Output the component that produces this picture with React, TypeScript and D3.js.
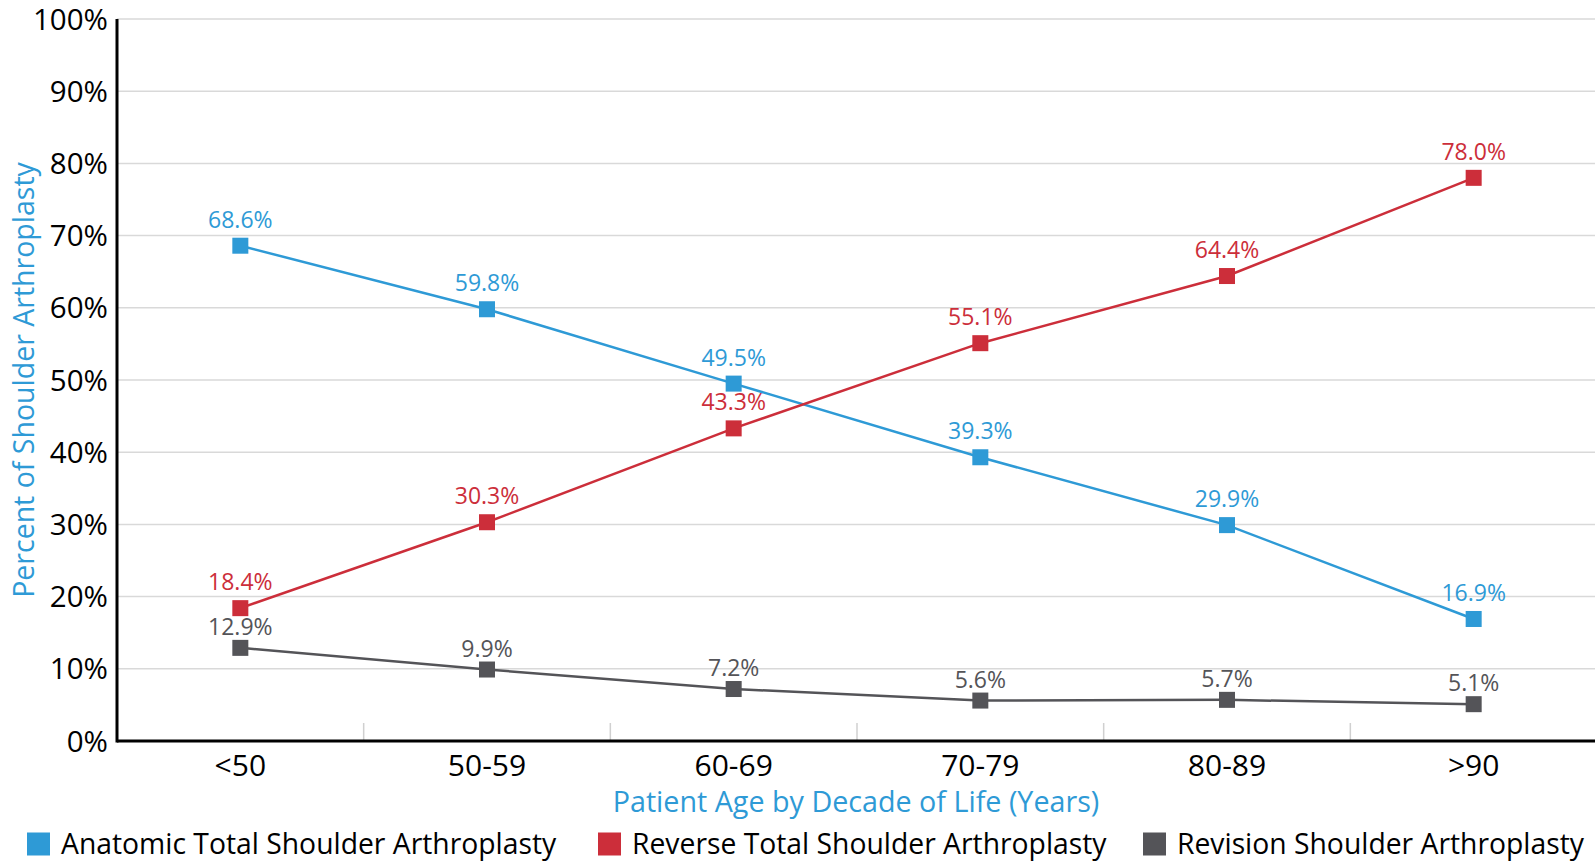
import * as d3 from "d3";

const ageGroups = ["<50", "50-59", "60-69", "70-79", "80-89", ">90"];
const anatomic = [68.6, 59.8, 49.5, 39.3, 29.9, 16.9];
const reverse = [18.4, 30.3, 43.3, 55.1, 64.4, 78.0];
const revision = [12.9, 9.9, 7.2, 5.6, 5.7, 5.1];
const yTicks = [0, 10, 20, 30, 40, 50, 60, 70, 80, 90, 100];

const series = [
  { name: "Anatomic Total Shoulder Arthroplasty", values: anatomic, color: "#2e9ad6", labelDy: -18 },
  { name: "Reverse Total Shoulder Arthroplasty", values: reverse, color: "#cc2e3a", labelDy: -18 },
  { name: "Revision Shoulder Arthroplasty", values: revision, color: "#545458", labelDy: -13 },
];

const width = 1595;
const height = 861;
const font = "'Open Sans', sans-serif";

export default function App() {
  let margin = { top: 19, right: -2, bottom: 120, left: 117 };

  let x = d3
    .scaleBand()
    .domain(ageGroups)
    .range([margin.left, width - margin.right]);

  let y = d3
    .scaleLinear()
    .domain([0, 100])
    .range([height - margin.bottom, margin.top]);

  let line = d3
    .line<number>()
    .x((_, i) => x(ageGroups[i])! + x.bandwidth() / 2)
    .y((d) => y(d));

  let legendX = [27, 598, 1143];

  return (
    <svg
      width={width}
      height={height}
      style={{ position: "absolute", left: 0, top: 0, background: "white" }}
      fontFamily={font}
    >
      {/* gridlines + y labels */}
      {yTicks.map((t) => (
        <g key={t} transform={`translate(0,${y(t)})`}>
          {t > 0 && (
            <line x1={margin.left} x2={width} stroke="#d9d9d9" strokeWidth={1.5} />
          )}
          <text x={108} dy="0.36em" textAnchor="end" fontSize={29.5} fill="#000">
            {t}%
          </text>
        </g>
      ))}

      {/* category separators */}
      {ageGroups.slice(1).map((g) => (
        <line
          key={g}
          x1={x(g)}
          x2={x(g)}
          y1={y(0) - 18}
          y2={y(0)}
          stroke="#d0d0d0"
          strokeWidth={1.5}
        />
      ))}

      {/* axes */}
      <line x1={margin.left} x2={margin.left} y1={y(100)} y2={y(0) + 1.5} stroke="#000" strokeWidth={3} />
      <line x1={margin.left} x2={width} y1={y(0)} y2={y(0)} stroke="#000" strokeWidth={3} />

      {ageGroups.map((g) => (
        <text
          key={g}
          x={x(g)! + x.bandwidth() / 2}
          y={y(0) + 35}
          textAnchor="middle"
          fontSize={30}
          fill="#000"
        >
          {g}
        </text>
      ))}

      {/* axis titles */}
      <text
        x={(margin.left + width) / 2}
        y={812}
        textAnchor="middle"
        fontSize={28.7}
        fill="#2e9ad6"
      >
        Patient Age by Decade of Life (Years)
      </text>
      <text
        transform={`translate(34,${(y(0) + y(100)) / 2}) rotate(-90)`}
        textAnchor="middle"
        fontSize={28.5}
        fill="#2e9ad6"
      >
        Percent of Shoulder Arthroplasty
      </text>

      {/* series */}
      {series.map((s) => (
        <g key={s.name}>
          <path d={line(s.values)!} fill="none" stroke={s.color} strokeWidth={2.5} />
          {s.values.map((v, i) => {
            let cx = x(ageGroups[i])! + x.bandwidth() / 2;
            let cy = y(v);
            return (
              <g key={i}>
                <rect x={cx - 8} y={cy - 8} width={16} height={16} fill={s.color} />
                <text
                  x={cx}
                  y={cy + s.labelDy}
                  textAnchor="middle"
                  fontSize={23}
                  fill={s.color}
                >
                  {v.toFixed(1)}%
                </text>
              </g>
            );
          })}
        </g>
      ))}

      {/* legend */}
      {series.map((s, i) => (
        <g key={s.name} transform={`translate(${legendX[i]},844)`}>
          <rect x={0} y={-11.5} width={23} height={23} fill={s.color} />
          <text x={34} dy="0.36em" fontSize={28.3} fill="#000">
            {s.name}
          </text>
        </g>
      ))}
    </svg>
  );
}
